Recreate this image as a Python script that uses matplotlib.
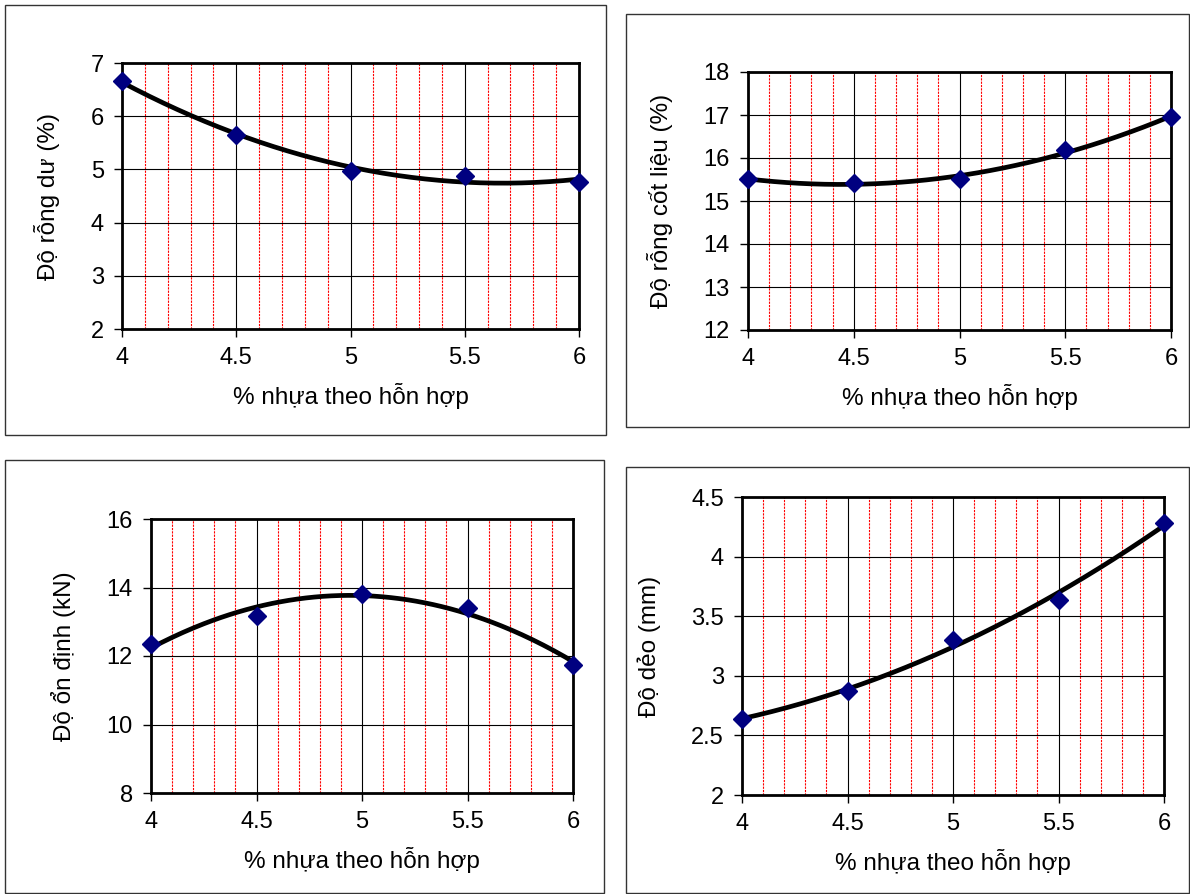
import numpy as np
import matplotlib.pyplot as plt
from matplotlib.patches import Rectangle
from matplotlib.ticker import MultipleLocator, FixedLocator, FuncFormatter

plt.rcParams['font.family'] = ['Liberation Sans', 'DejaVu Sans']

x = [4, 4.5, 5, 5.5, 6]
do_rong_du = [6.66, 5.65, 4.97, 4.88, 4.77]
do_rong_cot_lieu = [15.51, 15.42, 15.51, 16.19, 16.95]
do_on_dinh = [12.35, 13.18, 13.82, 13.41, 11.74]
do_deo = [2.64, 2.87, 3.30, 3.64, 4.28]

xlabel = '% nhựa theo hỗn hợp'

# (data, ylabel, ylim, ystep, axes box px, frame box px)
W, H = 1190, 894
panels = [
    (do_rong_du, 'Độ rỗng dư (%)', (2, 7), 1, (122, 63, 579, 329), (5, 5, 606, 435)),
    (do_rong_cot_lieu, 'Độ rỗng cốt liệu (%)', (12, 18), 1, (748, 72, 1171, 330), (626, 14, 1189, 427)),
    (do_on_dinh, 'Độ ổn định (kN)', (8, 16), 2, (151, 519, 573, 793), (5, 460, 604, 893)),
    (do_deo, 'Độ dẻo (mm)', (2, 4.5), 0.5, (742, 497, 1164, 795), (626, 467, 1189, 893)),
]

fmt = FuncFormatter(lambda v, p: '%g' % v)

fig = plt.figure(figsize=(W / 100, H / 100), dpi=100)

for y, ylab, ylim, ystep, a, b in panels:
    fig.patches.append(Rectangle((b[0] / W, 1 - b[3] / H), (b[2] - b[0]) / W, (b[3] - b[1]) / H,
                                 transform=fig.transFigure, fill=False, edgecolor='#333333', lw=1))
    ax = fig.add_axes([a[0] / W, 1 - a[3] / H, (a[2] - a[0]) / W, (a[3] - a[1]) / H])
    ax.set_xlim(4, 6)
    ax.set_ylim(*ylim)
    ax.xaxis.set_major_locator(MultipleLocator(0.5))
    ax.xaxis.set_minor_locator(FixedLocator([v for v in np.arange(4, 6.01, 0.1) if abs(v * 2 - round(v * 2)) > 1e-6]))
    ax.yaxis.set_major_locator(MultipleLocator(ystep))
    ax.xaxis.set_major_formatter(fmt)
    ax.yaxis.set_major_formatter(fmt)
    ax.grid(which='minor', axis='x', color='red', ls=(0, (2, 1)), lw=0.8)
    ax.grid(which='major', color='black', lw=0.8)
    ax.set_axisbelow(True)
    for s in ax.spines.values():
        s.set_linewidth(2)
    ax.tick_params(which='major', direction='out', length=6, width=1, labelsize=17, pad=7)
    ax.tick_params(which='minor', length=0)

    # 2nd order trendline
    c = np.polyfit(x, y, 2)
    xs = np.linspace(4, 6, 200)
    ax.plot(xs, np.polyval(c, xs), color='black', lw=3.4, zorder=3, clip_on=False)
    ax.plot(x, y, ls='none', marker='D', color='#000080', ms=9, zorder=4, clip_on=False)

    ax.set_xlabel(xlabel, fontsize=17.5, labelpad=10)
    ax.set_ylabel(ylab, fontsize=17.5, labelpad=22)

fig.savefig('out.png', dpi=100)
